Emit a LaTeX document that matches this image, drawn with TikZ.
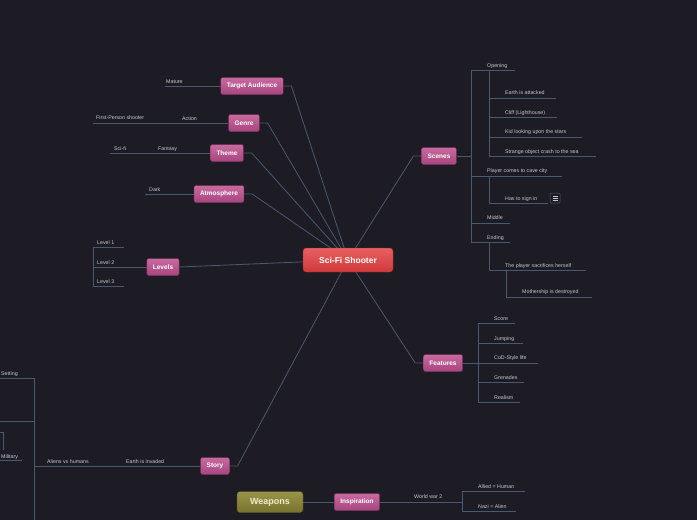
\documentclass[tikz,border=0pt]{standalone}
\usepackage{fontspec}
\setmainfont{Liberation Sans}
\usetikzlibrary{backgrounds}
\definecolor{bg}{HTML}{1D1C24}
\definecolor{ln}{HTML}{4A5A6E}
\definecolor{tx}{HTML}{C8C8CC}
\definecolor{pk}{HTML}{A8457E}
\definecolor{pkt}{HTML}{C86AA0}
\definecolor{rd}{HTML}{D03A3C}
\definecolor{rdt}{HTML}{E86060}
\definecolor{ol}{HTML}{77722F}
\definecolor{olt}{HTML}{9A9448}
\tikzset{
 x=1pt,y=-1pt,
 topic/.style={rounded corners=2pt,top color=pkt,bottom color=pk,draw=pk!70!black,text=white,font=\bfseries\fontsize{6.5}{7}\selectfont,minimum height=17pt,inner xsep=6pt},
 central/.style={rounded corners=3pt,top color=rdt,bottom color=rd,draw=rd!70!black,text=white,font=\bfseries\fontsize{8.5}{9}\selectfont,minimum height=24pt,minimum width=90pt},
 weap/.style={rounded corners=3pt,top color=olt,bottom color=ol,draw=ol!70!black,text=white!85!olive,font=\bfseries\fontsize{9}{10}\selectfont,minimum height=21pt,minimum width=66pt},
 lbl/.style={text=tx,font=\fontsize{5.3}{6}\selectfont,inner sep=0pt,anchor=base west},
 con/.style={draw=ln,line width=0.8pt},
 br/.style={draw=ln,line width=0.6pt},
}
\begin{document}
\begin{tikzpicture}
\useasboundingbox (0,0) rectangle (697,520);
\node[central] (c) at (348,260) {Sci-Fi Shooter};
\node[topic] (ta) at (252,86) {Target Audience};
\node[topic] (ge) at (244,123) {Genre};
\node[topic] (th) at (227,153) {Theme};
\node[topic] (at) at (219,194) {Atmosphere};
\node[topic] (lv) at (163,267) {Levels};
\node[topic] (sc) at (439,156) {Scenes};
\node[topic] (fe) at (443,363) {Features};
\node[topic] (st) at (215,466) {Story};
\node[weap] (we) at (270,502) {Weapons};
\node[topic] (in) at (357,502) {Inspiration};
% labels
\node[lbl] (l1) at (166,83) {Mature};
\node[lbl] (l2) at (182,120) {Action};
\node[lbl] (l3) at (96,119) {First-Person shooter};
\node[lbl] (l4) at (158,150) {Fantasy};
\node[lbl] (l5) at (114,150) {Sci-fi};
\node[lbl] (l6) at (149,191) {Dark};
\node[lbl] (lv1) at (97,244) {Level 1};
\node[lbl] (lv2) at (97,264) {Level 2};
\node[lbl] (lv3) at (97,283) {Level 3};
\node[lbl] (s1) at (487,67) {Opening};
\node[lbl] (s2) at (505,94) {Earth is attacked};
\node[lbl] (s3) at (505,114) {Cliff (Lighthouse)};
\node[lbl] (s4) at (505,133) {Kid looking upon the stars};
\node[lbl] (s5) at (505,153) {Strange object crash to the sea};
\node[lbl] (s6) at (487,172) {Player comes to cave city};
\node[lbl] (s7) at (505,200) {Has to sign in};
\node[lbl] (s8) at (487,219) {Middle};
\node[lbl] (s9) at (487,239) {Ending};
\node[lbl] (s10) at (505,267) {The player sacrifices herself};
\node[lbl] (s11) at (522,293) {Mothership is destroyed};
\node[draw=ln,rounded corners=1pt,minimum size=10pt,inner sep=0pt,line width=0.5pt] (ic) at (555,198) {};
\foreach \yy in {-2,0,2}{\draw[tx,line width=0.4pt] ([xshift=-2.5pt,yshift=\yy pt]ic.center) -- ([xshift=2.5pt,yshift=\yy pt]ic.center);}
\node[lbl] (f1) at (494,320) {Score};
\node[lbl] (f2) at (494,340) {Jumping};
\node[lbl] (f3) at (494,359) {CoD-Style life};
\node[lbl] (f4) at (494,379) {Grenades};
\node[lbl] (f5) at (494,399) {Realism};
\node[lbl] (t1) at (126,463) {Earth is invaded};
\node[lbl] (t2) at (47,463) {Aliens vs humans};
\node[lbl] (t3) at (1,375) {Setting};
\node[lbl] (t4) at (1,458) {Military};
\node[lbl] (i1) at (414,498) {World war 2};
\node[lbl] (i2) at (478,488) {Allied = Human};
\node[lbl] (i3) at (478,508) {Nazi = Alien};
\begin{scope}[on background layer]
\fill[bg] (0,0) rectangle (697,520);
\draw[con] (ta.east) -- ++(8,0) -- (c.center);
\draw[con] (ge.east) -- ++(8,0) -- (c.center);
\draw[con] (th.east) -- ++(8,0) -- (c.center);
\draw[con] (at.east) -- ++(8,0) -- (c.center);
\draw[con] (lv.east) -- (c.center);
\draw[con] (sc.west) -- ++(-8,0) -- (c.center);
\draw[con] (fe.west) -- ++(-8,0) -- (c.center);
\draw[con] (st.east) -- ++(8,0) -- (c.center);
\draw[con] (we.east) -- (in.west);
\draw[br] (ta.west) -- (165,86);
\draw[br] (ge.west) -- (93,123);
\draw[br] (th.west) -- (110,153);
\draw[br] (at.west) -- (145,194);
\draw[br] (lv.west) -- (93,267);
\draw[br] (93,247) -- (93,286);
\draw[br] (93,247) -- (124,247) (93,286) -- (124,286);
\draw[br] (sc.east) -- (471,156);
\draw[br] (471,70) -- (471,242);
\draw[br] (471,70) -- (515,70) (471,176) -- (562,176) (471,223) -- (510,223) (471,242) -- (510,242);
\draw[br] (489,70) -- (489,156);
\draw[br] (489,98) -- (556,98) (489,117) -- (557,117) (489,137) -- (582,137) (489,156) -- (596,156);
\draw[br] (489,176) -- (489,203) -- (548,203);
\draw[br] (489,242) -- (489,270) -- (586,270);
\draw[br] (506,270) -- (506,297) -- (592,297);
\draw[br] (fe.east) -- (478,363);
\draw[br] (478,323) -- (478,402);
\draw[br] (478,323) -- (515,323) (478,343) -- (523,343) (478,363) -- (538,363) (478,382) -- (524,382) (478,402) -- (520,402);
\draw[br] (st.west) -- (34,466);
\draw[br] (34,378) -- (34,520);
\draw[br] (0,378) -- (34,378) (0,421) -- (34,421) (0,460) -- (22,460);
\draw[br] (0,432) -- (3,432) -- (3,450);
\draw[br] (in.east) -- (462,502);
\draw[br] (462,491) -- (462,511);
\draw[br] (462,491) -- (525,491) (462,511) -- (516,511);
\end{scope}
\end{tikzpicture}
\end{document}
